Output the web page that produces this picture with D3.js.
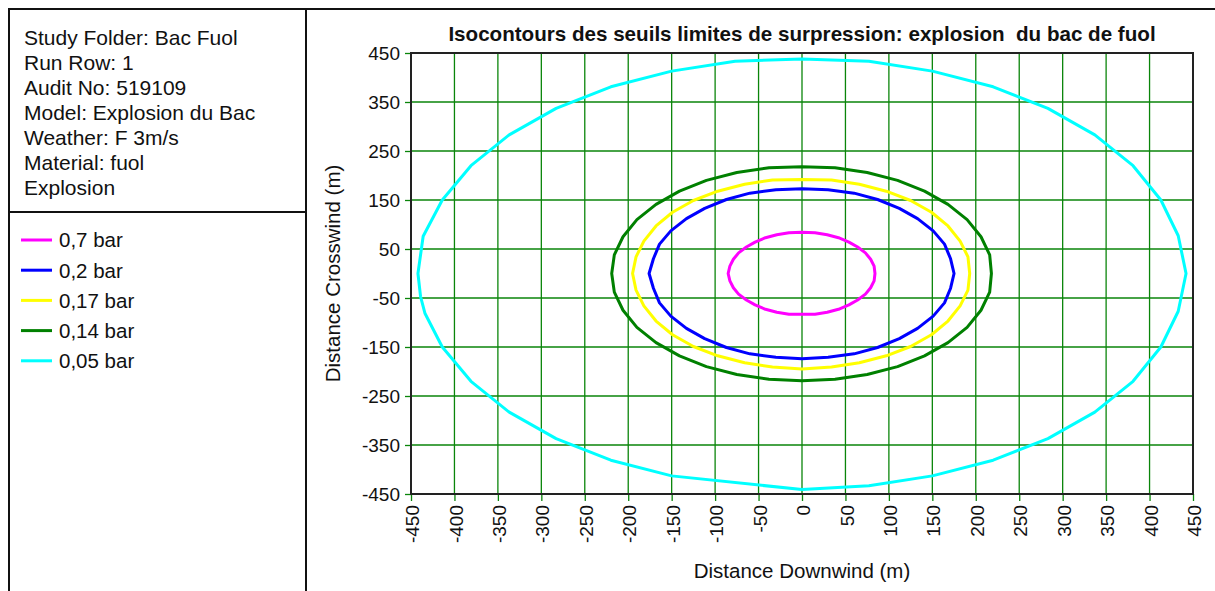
<!DOCTYPE html>
<html>
<head>
<meta charset="utf-8">
<script src="https://cdn.jsdelivr.net/npm/d3@7"></script>
<style>
  html, body { margin: 0; padding: 0; background: #fff; }
  svg { display: block; }
  text { font-family: "Liberation Sans", Arial, sans-serif; fill: #111; }
</style>
</head>
<body>
<svg id="chart" width="1215" height="591"></svg>
<script>
// Study information shown in the top-left box
const infoLines = [
  "Study Folder: Bac Fuol",
  "Run Row: 1",
  "Audit No: 519109",
  "Model: Explosion du Bac",
  "Weather: F 3m/s",
  "Material: fuol",
  "Explosion"
];

// Overpressure thresholds (legend order) and their colours
const thresholds = ["0,7 bar", "0,2 bar", "0,17 bar", "0,14 bar", "0,05 bar"];
const colors = ["#ff00ff", "#0000ff", "#ffff00", "#008000", "#00ffff"];

// Contour vertices [downwind m, crosswind m], one list per threshold
const contour07 = [
  [84,0],[83,15],[79,29],[73,42],[64,54],[54,64],[42,73],[29,79],[15,83],[0,84],
  [-15,83],[-29,79],[-42,73],[-54,64],[-64,54],[-73,42],[-79,29],[-83,15],
  [-85,0],[-83,-15],[-79,-29],[-73,-42],[-64,-54],[-54,-64],[-42,-73],[-29,-79],[-15,-83],
  [0,-83],[15,-83],[29,-79],[42,-73],[54,-64],[64,-54],[73,-42],[79,-29],[83,-15]
];
const contour02 = [
  [175,0],[171,30],[164,60],[151,87],[133,112],[112,133],[87,151],[60,164],[30,171],[0,173],
  [-30,171],[-60,164],[-87,151],[-112,133],[-133,112],[-151,87],[-164,60],[-171,30],
  [-176,0],[-171,-30],[-164,-60],[-151,-87],[-133,-112],[-112,-133],[-87,-151],[-60,-164],[-30,-171],
  [0,-174],[30,-171],[60,-164],[87,-151],[112,-133],[133,-112],[151,-87],[164,-60],[171,-30]
];
const contour017 = [
  [193,0],[191,34],[182,66],[168,97],[149,125],[125,149],[97,168],[66,182],[34,191],[0,192],
  [-34,191],[-66,182],[-97,168],[-125,149],[-149,125],[-168,97],[-182,66],[-191,34],
  [-195,0],[-191,-34],[-182,-66],[-168,-97],[-149,-125],[-125,-149],[-97,-168],[-66,-182],[-34,-191],
  [0,-195],[34,-191],[66,-182],[97,-168],[125,-149],[149,-125],[168,-97],[182,-66],[191,-34]
];
const contour014 = [
  [218,0],[216,38],[206,75],[190,110],[168,141],[141,168],[110,190],[75,206],[38,216],[0,218],
  [-38,216],[-75,206],[-110,190],[-141,168],[-168,141],[-190,110],[-206,75],[-216,38],
  [-219,0],[-216,-38],[-206,-75],[-190,-110],[-168,-141],[-141,-168],[-110,-190],[-75,-206],[-38,-216],
  [0,-219],[38,-216],[75,-206],[110,-190],[141,-168],[168,-141],[190,-110],[206,-75],[216,-38]
];
const contour005 = [
  [442,0],[433,77],[413,150],[381,220],[337,283],[283,337],[220,381],[150,413],[77,433],[0,438],
  [-77,433],[-150,413],[-220,381],[-283,337],[-337,283],[-381,220],[-414,150],[-436,76],
  [-442,0],[-439,-47],[-434,-81],[-414,-150],[-381,-220],[-337,-283],[-283,-337],[-220,-381],[-150,-413],
  [0,-441],[77,-433],[150,-413],[220,-381],[283,-337],[337,-283],[381,-220],[413,-150],[433,-77]
];

// Axis tick values
const xTicks = [-450,-400,-350,-300,-250,-200,-150,-100,-50,0,50,100,150,200,250,300,350,400,450];
const yTicks = [450,350,250,150,50,-50,-150,-250,-350,-450];

const titleText = "Isocontours des seuils limites de surpression: explosion  du bac de fuol";
const xTitle = "Distance Downwind (m)";
const yTitle = "Distance Crosswind (m)";

const contours = [contour07, contour02, contour017, contour014, contour005];

// ---------------------------------------------------------------------------
const svg = d3.select("#chart");
const W = 1215, H = 591;
const gridColor = "#0a850a";

// Panel frames
const frame = svg.append("g").attr("fill", "none").attr("stroke", "#111").attr("stroke-width", 2);
frame.append("line").attr("x1", 8).attr("y1", 9).attr("x2", W).attr("y2", 9);
frame.append("line").attr("x1", 9).attr("y1", 8).attr("x2", 9).attr("y2", H);
frame.append("line").attr("x1", 306).attr("y1", 8).attr("x2", 306).attr("y2", H);
frame.append("line").attr("x1", 8).attr("y1", 212).attr("x2", 306).attr("y2", 212);

// Info block
svg.append("g").selectAll("text").data(infoLines).join("text")
  .attr("x", 24)
  .attr("y", (d, i) => 45 + i * 25)
  .attr("font-size", 21)
  .text(d => d);

// Legend
const legend = svg.append("g").selectAll("g").data(thresholds).join("g")
  .attr("transform", (d, i) => `translate(0,${240 + i * 30.2})`);
legend.append("line")
  .attr("x1", 21).attr("x2", 52).attr("y1", 0).attr("y2", 0)
  .attr("stroke", (d, i) => colors[i]).attr("stroke-width", 3);
legend.append("text")
  .attr("x", 59).attr("y", 0).attr("dy", "0.36em")
  .attr("font-size", 20.5)
  .text(d => d);

// Plot area
const x = d3.scaleLinear().domain([-450, 450]).range([411, 1193]);
const y = d3.scaleLinear().domain([-450, 450]).range([494, 53]);

const grid = svg.append("g").attr("stroke", gridColor).attr("stroke-width", 1.3);
grid.selectAll("line.v").data(xTicks).join("line").attr("class", "v")
  .attr("x1", d => x(d)).attr("x2", d => x(d)).attr("y1", y(450)).attr("y2", y(-450));
grid.selectAll("line.h").data(yTicks).join("line").attr("class", "h")
  .attr("y1", d => y(d)).attr("y2", d => y(d)).attr("x1", x(-450)).attr("x2", x(450));

// Axes (plain hyphen-minus in labels)
const fmt = d => String(d);
const yAxis = svg.append("g").attr("transform", `translate(${x(-450)},0)`)
  .call(d3.axisLeft(y).tickValues(yTicks).tickSize(6).tickPadding(5).tickFormat(fmt));
const xAxis = svg.append("g").attr("transform", `translate(0,${y(-450)})`)
  .call(d3.axisBottom(x).tickValues(xTicks).tickSize(7).tickFormat(fmt));
[xAxis, yAxis].forEach(a => {
  a.select(".domain").remove();
  a.selectAll(".tick line").attr("stroke", gridColor).attr("stroke-width", 1.3);
  a.selectAll(".tick text").attr("font-size", 19).attr("fill", "#111")
    .attr("font-family", "Liberation Sans, Arial, sans-serif");
});
xAxis.selectAll(".tick text")
  .attr("transform", "rotate(-90)")
  .attr("text-anchor", "end")
  .attr("x", -11).attr("y", 0).attr("dy", "0.4em");

// Plot border
svg.append("rect")
  .attr("x", x(-450)).attr("y", y(450))
  .attr("width", x(450) - x(-450)).attr("height", y(-450) - y(450))
  .attr("fill", "none").attr("stroke", "#222").attr("stroke-width", 2);

// Contours
const line = d3.line().x(d => x(d[0])).y(d => y(d[1])).curve(d3.curveLinearClosed);
svg.append("g").selectAll("path").data(contours).join("path")
  .attr("d", line)
  .attr("fill", "none")
  .attr("stroke", (d, i) => colors[i])
  .attr("stroke-width", 3)
  .attr("stroke-linejoin", "round");

// Titles
svg.append("text")
  .attr("x", (x(-450) + x(450)) / 2).attr("y", 41)
  .attr("text-anchor", "middle")
  .attr("font-size", 20.6).attr("font-weight", "bold")
  .style("white-space", "pre")
  .text(titleText);
svg.append("text")
  .attr("x", (x(-450) + x(450)) / 2).attr("y", 578)
  .attr("text-anchor", "middle")
  .attr("font-size", 20.5)
  .text(xTitle);
svg.append("text")
  .attr("transform", `translate(340,${(y(450) + y(-450)) / 2}) rotate(-90)`)
  .attr("text-anchor", "middle")
  .attr("font-size", 20.5)
  .text(yTitle);
</script>
</body>
</html>
